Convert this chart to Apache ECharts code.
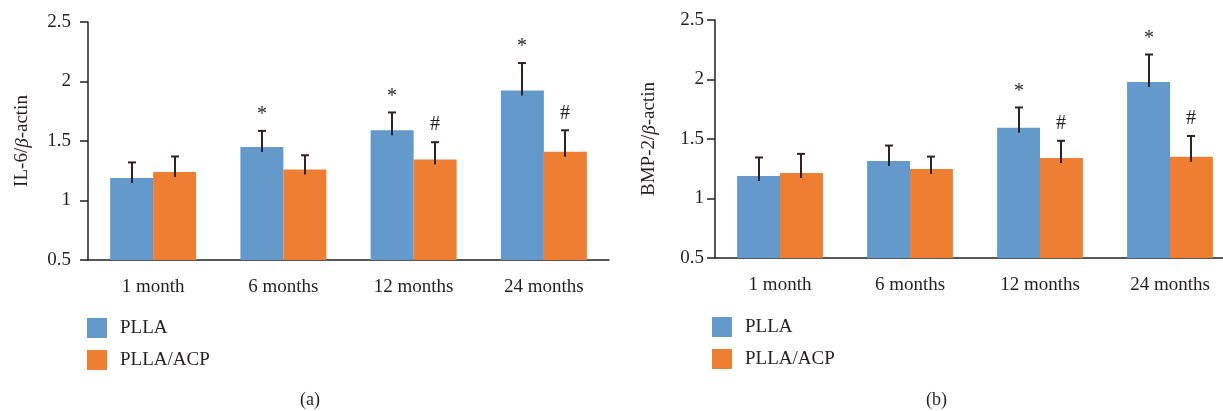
<!DOCTYPE html>
<html>
<head>
<meta charset="utf-8">
<script src="https://cdn.jsdelivr.net/npm/echarts@6/dist/echarts.min.js"></script>
<style>
html,body{margin:0;padding:0;background:#fff;}
#c{width:1223px;height:411px;}
</style>
</head>
<body>
<div id="c"></div>
<script>
const categories = ['1 month', '6 months', '12 months', '24 months'];
const yTicks = [0.5, 1, 1.5, 2, 2.5];
const il6PLLA = [1.19, 1.45, 1.59, 1.925];
const il6PLLAErr = [0.13, 0.135, 0.15, 0.23];
const il6ACP = [1.24, 1.26, 1.345, 1.41];
const il6ACPErr = [0.13, 0.12, 0.145, 0.18];
const bmpPLLA = [1.19, 1.315, 1.595, 1.98];
const bmpPLLAErr = [0.155, 0.13, 0.17, 0.23];
const bmpACP = [1.215, 1.247, 1.34, 1.35];
const bmpACPErr = [0.16, 0.105, 0.145, 0.175];
const il6PLLAMark = ['', '*', '*', '*'];
const il6ACPMark = ['', '', '#', '#'];
const bmpPLLAMark = ['', '', '*', '*'];
const bmpACPMark = ['', '', '#', '#'];
const seriesNames = ['PLLA', 'PLLA/ACP'];

const FONT = '"Liberation Serif", "Times New Roman", serif';
const INK = '#231f20';
const BLUE = '#6399cb';
const ORANGE = '#ed7e32';
const ERR = '#2e2320';
const CAT_GAP = 0.34;

const chart = echarts.init(document.getElementById('c'), null, {renderer: 'canvas'});

function errSeries(gi, vals, errs, marks, side) {
  return {
    type: 'custom',
    xAxisIndex: gi, yAxisIndex: gi,
    z: 5,
    silent: true,
    clip: false,
    data: vals.map((v, i) => [i, v, errs[i]]),
    renderItem: function (params, api) {
      const i = api.value(0), v = api.value(1), e = api.value(2);
      const band = api.size([1, 0])[0];
      const bw = band * (1 - CAT_GAP) / 2;
      const base = api.coord([i, v]);
      const top = api.coord([i, v + e]);
      const x = Math.round(base[0] + side * bw / 2);
      const children = [
        {type: 'line', shape: {x1: x, y1: base[1] + 5, x2: x, y2: top[1]}, style: {stroke: ERR, lineWidth: 2}},
        {type: 'line', shape: {x1: x - 4, y1: top[1], x2: x + 4, y2: top[1]}, style: {stroke: ERR, lineWidth: 2}}
      ];
      const m = marks[i];
      if (m) {
        children.push({
          type: 'text',
          x: x, y: top[1] - (m === '*' ? 16 : 17),
          style: {text: m, textAlign: 'center', textVerticalAlign: 'middle',
                  font: '20px ' + FONT, fill: INK}
        });
      }
      return {type: 'group', children: children};
    }
  };
}

function barSeries(gi, name, vals, color) {
  return {
    type: 'bar', name: name, xAxisIndex: gi, yAxisIndex: gi,
    data: vals, barGap: '0%', barCategoryGap: (CAT_GAP * 100) + '%',
    itemStyle: {color: color}, silent: true
  };
}

function xAx(gi) {
  return {
    type: 'category', gridIndex: gi, data: categories,
    axisLine: {lineStyle: {color: INK, width: 1.5}},
    axisTick: {alignWithLabel: true, length: 8, lineStyle: {color: INK, width: 1.5}},
    axisLabel: {color: INK, fontFamily: FONT, fontSize: 19, margin: 18, hideOverlap: false}
  };
}
function yAx(gi, name, margin, gap) {
  return {
    type: 'value', gridIndex: gi, min: yTicks[0], max: yTicks[yTicks.length - 1], interval: 0.5,
    splitLine: {show: false},
    axisLine: {show: true, lineStyle: {color: INK, width: 1.5}},
    axisTick: {show: true, length: 8, lineStyle: {color: INK, width: 1.5}},
    axisLabel: {color: INK, fontFamily: FONT, fontSize: 19, margin: margin,
                formatter: v => String(v)},
    name: name, nameLocation: 'middle', nameGap: gap, nameRotate: 90,
    nameTextStyle: {color: INK, fontFamily: FONT, fontSize: 19,
                    rich: {i: {fontStyle: 'italic', fontFamily: FONT, fontSize: 19, color: INK}}}
  };
}
function legendAt(left, top) {
  return {
    data: seriesNames, orient: 'vertical', left: left, top: top, padding: 0,
    icon: 'rect', itemWidth: 20, itemHeight: 20, itemGap: 12,
    selectedMode: false,
    textStyle: {color: INK, fontFamily: FONT, fontSize: 19, padding: [0, 0, 0, 8]}
  };
}

chart.setOption({
  animation: false,
  color: [BLUE, ORANGE],
  grid: [
    {left: 88, width: 521, top: 22, height: 238, containLabel: false, outerBoundsMode: 'none'},
    {left: 715, width: 520, top: 20, height: 238, containLabel: false, outerBoundsMode: 'none'}
  ],
  xAxis: [xAx(0), xAx(1)],
  yAxis: [yAx(0, 'IL-6/{i|β}-actin', 17, 56), yAx(1, 'BMP-2/{i|β}-actin', 11, 56)],
  legend: [legendAt(87, 318), legendAt(712, 317)],
  graphic: [
    {type: 'text', left: 300, top: 391, style: {text: '(a)', font: '18px ' + FONT, fill: INK}},
    {type: 'text', left: 926, top: 391, style: {text: '(b)', font: '18px ' + FONT, fill: INK}}
  ],
  series: [
    barSeries(0, seriesNames[0], il6PLLA, BLUE),
    barSeries(0, seriesNames[1], il6ACP, ORANGE),
    barSeries(1, seriesNames[0], bmpPLLA, BLUE),
    barSeries(1, seriesNames[1], bmpACP, ORANGE),
    errSeries(0, il6PLLA, il6PLLAErr, il6PLLAMark, -1),
    errSeries(0, il6ACP, il6ACPErr, il6ACPMark, 1),
    errSeries(1, bmpPLLA, bmpPLLAErr, bmpPLLAMark, -1),
    errSeries(1, bmpACP, bmpACPErr, bmpACPMark, 1)
  ]
});
</script>
</body>
</html>
